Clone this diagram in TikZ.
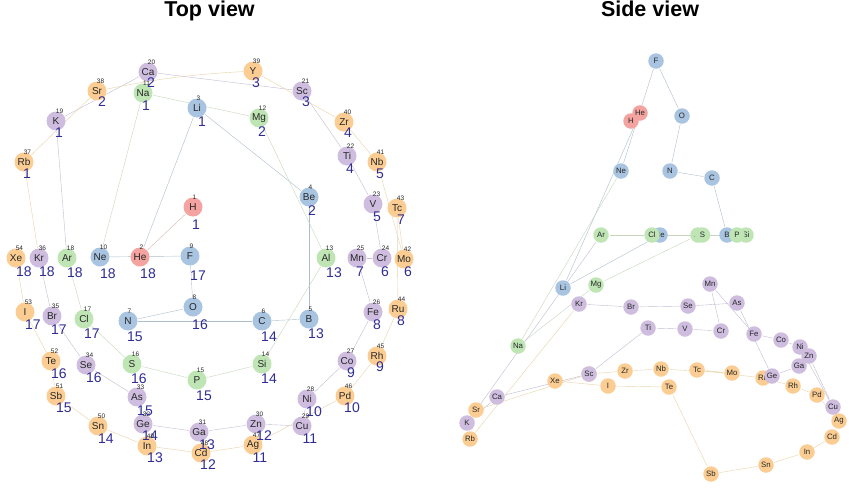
\documentclass[tikz,border=0pt]{standalone}
\usepackage{fontspec}
\setmainfont{Liberation Sans}
\usetikzlibrary{backgrounds}
\definecolor{redel}{HTML}{F4A3A0}
\definecolor{blueel}{HTML}{A9C4E0}
\definecolor{greenel}{HTML}{BFE5B5}
\definecolor{purpleel}{HTML}{CEBDDF}
\definecolor{orangeel}{HTML}{FBCD92}
\definecolor{groupblue}{HTML}{2F2C93}
\definecolor{rededge}{HTML}{D9B6B0}
\definecolor{blueedge}{HTML}{AEBDCC}
\definecolor{greenedge}{HTML}{C6D6BC}
\definecolor{purpleedge}{HTML}{C3BCD2}
\definecolor{orangeedge}{HTML}{E8D2A8}
\newcommand{\toplist}{H/193/207/1/1/196/225/redel, He/140/257/2/18/148/274/redel, Li/197/108/3/1/202/122/blueel, Be/309/197/4/2/312/211/blueel, B/309/319/5/13/316/334/blueel, C/262/321/6/14/269/337/blueel, N/128/321/7/15/135/337/blueel, O/193/307/8/16/200/325/blueel, F/190/256/9/17/198/276/blueel, Ne/100/257/10/18/108/274/blueel,
  Na/143/93/11/1/146/106/greenel, Mg/259/118/12/2/262/132/greenel, Al/326/258/13/13/334/273/greenel, Si/262/364/14/14/269/379/greenel, P/197/380/15/15/204/396/greenel, S/132/364/16/16/139/379/greenel, Cl/84/319/17/17/92/334/greenel, Ar/67/258/18/18/75/273/greenel,
  K/56/121/19/1/59/133/purpleel, Ca/148/72/20/2/151/83/purpleel, Sc/302/91/21/3/306/102/purpleel, Ti/347/156/22/4/350/169/purpleel, V/373/204/23/5/377/217/purpleel, Cr/382/258/24/6/385/272/purpleel, Mn/357/258/25/7/360/272/purpleel, Fe/373/312/26/8/377/325/purpleel, Co/347/361/27/9/351/373/purpleel, Ni/307/399/28/10/314/412/purpleel, Cu/302/426/29/11/310/439/purpleel, Zn/256/424/30/12/264/436/purpleel, Ga/199/432/31/13/207/445/purpleel, Ge/143/424/32/14/150/436/purpleel, As/137/397/33/15/145/411/purpleel, Se/86/365/34/16/94/378/purpleel, Br/52/316/35/17/59/330/purpleel, Kr/39/258/36/18/47/272/purpleel,
  Rb/24/162/37/1/27/174/orangeel, Sr/97/91/38/2/102/102/orangeel, Y/253/71/39/3/256/83/orangeel, Zr/344/122/40/4/348/133/orangeel, Nb/377/162/41/5/380/174/orangeel, Mo/404/259/42/6/408/272/orangeel, Tc/397/208/43/7/401/220/orangeel, Ru/398/309/44/8/401/321/orangeel, Rh/377/356/45/9/380/367/orangeel, Pd/345/396/46/10/352/408/orangeel, Ag/253/445/47/11/260/458/orangeel, Cd/201/453/48/12/208/465/orangeel, In/147/446/49/13/155/458/orangeel, Sn/98/426/50/14/106/439/orangeel, Sb/56/396/51/15/64/408/orangeel, Te/51/361/52/16/59/374/orangeel, I/25/312/53/17/33/325/orangeel, Xe/16/258/54/18/24/272/orangeel}
\begin{document}
\begin{tikzpicture}[x=1pt, y=-1pt, line width=1.5pt,
  main node/.style={circle,inner sep=0pt,minimum size=19pt,font=\fontsize{10}{10}\selectfont,text=black!85},
  side node/.style={circle,inner sep=0pt,minimum size=15.5pt,font=\fontsize{7.8}{8}\selectfont,text=black!85},
  num label/.style={inner sep=0pt,font=\fontsize{6.5}{7}\selectfont,text=black!85},
  group label/.style={inner sep=0pt,font=\fontsize{14}{14}\selectfont,text=groupblue},
  title label/.style={inner sep=0pt,anchor=base,font=\bfseries\fontsize{21.5}{22}\selectfont}]
\useasboundingbox (0,0) rectangle (850,491);
\node [title label](toptitle) at (209.5,16.5) {Top view};
\node [title label](sidetitle) at (650,16.5) {Side view};
% top view
\foreach \el/\px/\py/\num/\grp/\gx/\gy/\col in \toplist
  \node [main node,fill=\col](t\el) at (\px,\py) {\el};
% atomic numbers and group numbers
\foreach \el/\px/\py/\num/\grp/\gx/\gy/\col in \toplist{
  \pgfmathsetmacro\dx{\num<10 ? 1.5 : 3.5}
  \node [num label](n\el) at (\px+\dx,\py-10) {\num};
  \node [group label](g\el) at (\gx,\gy) {\grp};
}
% side view
\foreach \el/\px/\py in {He/640/113, H/631/121}
  \node [side node,fill=redel](s\el) at (\px,\py) {\el};
\foreach \el/\px/\py in {Li/563/288, Be/660/235, B/727/235, C/712/178, N/670/171, O/682/116, F/656/61, Ne/621/171}
  \node [side node,fill=blueel](s\el) at (\px,\py) {\el};
\foreach \el/\px/\py in {Na/518/346, Mg/596/285, Al/698/235, Si/746/235, P/737/235, S/702.5/235, Cl/652/235, Ar/601/235}
  \node [side node,fill=greenel](s\el) at (\px,\py) {\el};
\foreach \el/\px/\py in {Rb/470/439, Sr/476/410, Y/589/374, Zr/625/371, Nb/661/369, Mo/732/373, Tc/697/370, Ru/763/378, Rh/793/386, Pd/817/395, Ag/839/421, Cd/832/437, In/807/452, Sn/766/465, Sb/711/474, Te/669/387, I/608/386, Xe/555/381}
  \node [side node,fill=orangeel](s\el) at (\px,\py) {\el};
\foreach \el/\px/\py in {K/467/423, Ca/497/397, Sc/589/374, Ti/648/328, V/685/329, Cr/721/331, Mn/710/284, Fe/754/334, Co/781/340, Ni/800/347, Cu/833/407, Ga/799/366, Zn/809/356, Ge/772/376, As/737/303, Se/688/306, Br/631/307, Kr/579/304}
  \node [side node,fill=purpleel](s\el) at (\px,\py) {\el};
% the same bonds in both views
\begin{scope}[on background layer]
\foreach \v in {t,s}{
  \draw [rededge] (\v H) -- (\v He);
  \foreach \a/\b in {He/Li, Li/Be, Be/B, B/C, C/N, N/O, O/F, F/Ne}
    \draw [blueedge] (\v\a) -- (\v\b);
  \foreach \a/\b in {Ne/Na, Na/Mg, Mg/Al, Al/Si, Si/P, P/S, S/Cl, Cl/Ar}
    \draw [greenedge] (\v\a) -- (\v\b);
  \foreach \a/\b in {Ar/K, K/Ca, Ca/Sc, Sc/Ti, Ti/V, V/Cr, Cr/Mn, Mn/Fe, Fe/Co, Co/Ni, Ni/Cu, Cu/Zn, Zn/Ga, Ga/Ge, Ge/As, As/Se, Se/Br, Br/Kr}
    \draw [purpleedge] (\v\a) -- (\v\b);
  \foreach \a/\b in {Kr/Rb, Rb/Sr, Y/Zr, Zr/Nb, Nb/Mo, Mo/Tc, Tc/Ru, Ru/Rh, Rh/Pd, Pd/Ag, Ag/Cd, Cd/In, In/Sn, Sn/Sb, Sb/Te, Te/I, I/Xe}
    \draw [orangeedge] (\v\a) -- (\v\b);
}
\draw [orangeedge] (tSr) to[bend left=4] (tY);
\draw [orangeedge] (sSr) -- (sY);
\end{scope}
\end{tikzpicture}
\end{document}
